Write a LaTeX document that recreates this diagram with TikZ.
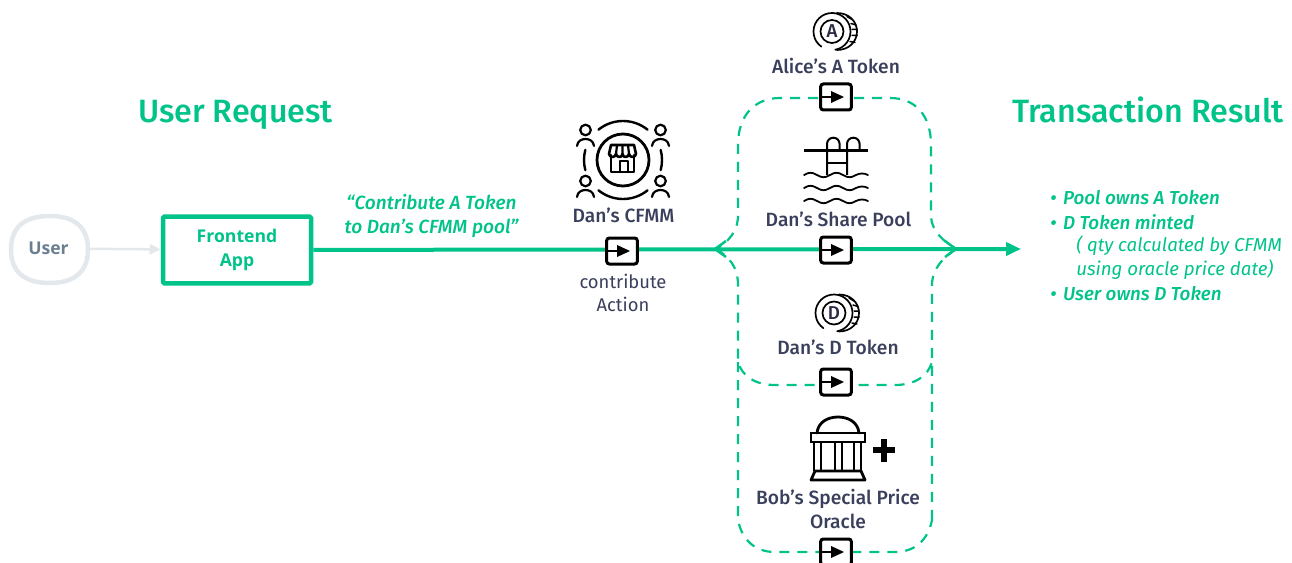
\documentclass[tikz,border=0pt]{standalone}
\usepackage{fontspec}
\setmainfont{Fira Sans}[BoldFont={Fira Sans Medium},BoldItalicFont={Fira Sans Medium Italic},ItalicFont={Fira Sans Italic}]
\newfontfamily\opn{Open Sans}
\usetikzlibrary{arrows.meta,shapes.geometric,calc}
\definecolor{grn}{HTML}{00C389}
\definecolor{ink}{HTML}{3A3F5C}
\definecolor{ugrey}{HTML}{E3E8ED}
\definecolor{utext}{HTML}{6B7F90}
\newcommand{\fs}[1]{\fontsize{#1}{#1}\selectfont}
\tikzset{
  x=0.75pt,y=-0.75pt,
  px/.style={line width=#1*0.75pt},
  lbl/.style={font=\fs{14.4}\bfseries,text=ink,align=center,inner sep=0pt},
  title/.style={font=\fs{24.2}\bfseries,text=grn,inner sep=0pt,anchor=base},
  note/.style={font=\fs{14.1}\bfseries\itshape,text=grn,inner sep=0pt,anchor=west},
  subnote/.style={font=\fs{14}\itshape,text=grn,inner sep=0pt,anchor=west},
  dashline/.style={draw=grn,px=2.2,dash pattern=on 7.5pt off 6pt},
  btn/.style={draw=black,fill=white,px=3,rounded corners=2pt,minimum width=23pt,minimum height=19.5pt,inner sep=0pt},
  ic/.style={draw=black,px=2,line cap=round,line join=round},
}
\newcommand{\btnmark}[1]{%
  \draw[black,px=2.4] (#1.west) -- ++(14,0);
  \fill[black] ($(#1.center)+(-5,-6)$) -- ++(13,6) -- ++(-13,6) -- cycle;
}
\newcommand{\coin}[2]{%
  \begin{scope}[shift={(#1)}]
    \draw[ic,px=1.7] (125:18.5) arc[start angle=125,end angle=440,radius=18.5];
    \draw[ic,px=1.7] (5,-18.5) .. controls (17,-18.5) and (25,-10) .. (25,0) .. controls (25,10) and (17,18.5) .. (5,18.5);
    \draw[ic,px=1.5] (15,-15) -- (20,-12) (19,-8) -- (24,-6.5) (20,-2) -- (25,-2) (20,4) -- (25,4) (18,10) -- (23,11);
    \draw[ic,px=1.7] (0,0) circle[radius=11.5];
    \node[font=\fs{14}\bfseries,text=ink!70!black,inner sep=0pt] at (0,0) {#2};
  \end{scope}}
\begin{document}
\begin{tikzpicture}
\useasboundingbox (0,0) rectangle (1292,563);
% titles
\node[title] (t1) at (235.5,123) {User Request};
\node[title] (t2) at (1148,123) {Transaction Result};
% user
\node[minimum width=58pt,minimum height=50pt,inner sep=0pt,font=\opn\fs{13.2}\bfseries,text=utext] (user) at (48.5,248.5) {User};
\draw[ugrey,px=4.5] (11,249.5) .. controls (11,226) and (26,216) .. (49.5,216) .. controls (73,216) and (88,226) .. (88,249.5) .. controls (88,273) and (73,283) .. (49.5,283) .. controls (26,283) and (11,273) .. (11,249.5) -- cycle;
% frontend
\node[draw=grn,px=4.5,rounded corners=1pt,minimum width=111pt,minimum height=50pt,inner sep=0pt,font=\opn\bfseries,text=grn,align=center] (fe) at (237,250) {\fs{13.2}Frontend\\[6.2pt]\fs{13.2}App};
\coordinate (tip) at (1021,249);
\draw[ugrey,px=2.5,-{Triangle[length=11pt*0.75,width=10pt*0.75]}] (user) -- (fe);
\draw[grn,px=4,-{Triangle[length=15pt*0.75,width=13pt*0.75]}] (fe) -- (tip);
% dashed
\draw[dashline] (836,98) -- (780,98) .. controls (755,98) and (738,115) .. (738,145) -- (738,215) .. controls (738,232) and (728,242) .. (716,249);
\draw[dashline] (836,98) -- (890,98) .. controls (915,98) and (931,115) .. (931,145) -- (931,215) .. controls (931,232) and (945,242) .. (956,249);
\draw[dashline] (716,249) .. controls (728,256) and (738,266) .. (738,285) -- (738,362) .. controls (742,376) and (755,385) .. (775,385) -- (895,385) .. controls (915,385) and (928,376) .. (932,362);
\draw[dashline] (956,249) .. controls (945,256) and (932,268) .. (932,285) -- (932,520);
\draw[dashline] (738,362) -- (738,520) .. controls (742,540) and (755,552) .. (775,552) -- (895,552) .. controls (915,552) and (928,540) .. (932,520);
\draw[grn,px=2.5] (726,241) -- (715,249) -- (726,257);
\draw[grn,px=2.5] (945,241) -- (956,249) -- (945,257);
% buttons
\node[btn] (b0) at (622,251) {}; \btnmark{b0}
\node[btn] (b1) at (836,97) {}; \btnmark{b1}
\node[btn] (b2) at (836,250) {}; \btnmark{b2}
\node[btn] (b3) at (836,382) {}; \btnmark{b3}
\node[btn] (b4) at (836,552) {}; \btnmark{b4}
% labels
\node[lbl] (l1) at (836,66) {Alice’s A Token};
\node[lbl] (l2) at (838.5,219.5) {Dan’s Share Pool};
\node[lbl] (l3) at (838,347) {Dan’s D Token};
\node[lbl,align=center] (l4) at (838,509) {Bob’s Special Price\\[3.6pt]Oracle};
\node[lbl] (l0) at (623.5,215) {Dan’s CFMM};
\node[font=\fs{13.8},text=ink,align=center,inner sep=0pt] (l5) at (623,293) {contribute\\[4pt]Action};
\node[font=\fs{14.3}\bfseries\itshape,text=grn,align=center,inner sep=0pt] (q) at (431.5,215.5) {“Contribute A Token\\[3.7pt]to Dan’s CFMM pool”};
% right notes
\node[note] (n1) at (1050,198) {•\hspace{5pt}Pool owns A Token};
\node[note] (n2) at (1050,222) {•\hspace{5pt}D Token minted};
\node[subnote] (n3) at (1076,246) {( qty calculated by CFMM};
\node[subnote] (n4) at (1076,270) {using oracle price date)};
\node[note] (n5) at (1050,294) {•\hspace{5pt}User owns D Token};
% coins
\coin{832,31.5}{A}
\coin{834,313}{D}
% pool
\begin{scope}[shift={(836,150)}]
  \draw[black,px=3] (-32,1) -- (32,1);
  \draw[ic,line cap=butt] (-9,25) -- (-9,-6) arc[start angle=180,end angle=360,radius=6.3] -- (3.6,1);
  \draw[ic,line cap=butt] (11,25) -- (11,-6) arc[start angle=180,end angle=360,radius=6.3] -- (23.6,1);
  \draw[ic,line cap=butt,px=2.4] (-9,13) -- (11,13);
  \foreach \y in {25,38,51}{
    \draw[ic,px=1.8] (-32,\y) .. controls (-27,\y-3) and (-24,\y-3) .. (-19,\y) .. controls (-14,\y+3) and (-11,\y+3) .. (-6,\y) .. controls (-1,\y-3) and (2,\y-3) .. (7,\y) .. controls (12,\y+3) and (15,\y+3) .. (20,\y) .. controls (24,\y-2) and (28,\y-2) .. (32,\y);
  }
\end{scope}
% oracle
\begin{scope}[shift={(838,450)}]
  \draw[ic,px=2.8] (-21,-17) .. controls (-20,-28) and (-10,-33) .. (0,-33) .. controls (10,-33) and (20,-28) .. (21,-17);
  \draw[ic,px=2.8,line join=miter] (-27,-17) rectangle (27,-8);
  \foreach \x in {-24,-17,-3,4,16,23} \draw[black,px=2.6] (\x,-8) -- (\x,21);
  \draw[ic,px=2.8] (-23,21) -- (23,21) -- (27,30) -- (-27,30) -- cycle;
  \draw[black,px=6.5] (35,0) -- (57,0) (46,-11) -- (46,12);
\end{scope}
% CFMM icon
\begin{scope}[shift={(623,160)}]
  \draw[ic,px=2.8] (0,0) circle[radius=26];
  \draw[ic,px=2.4] (231:39) arc[start angle=231,end angle=309,radius=39];
  \draw[ic,px=2.4] (51:39) arc[start angle=51,end angle=129,radius=39];
  \draw[ic,px=2.4] (165:39) arc[start angle=165,end angle=195,radius=39];
  \draw[ic,px=2.4] (-15:39) arc[start angle=-15,end angle=15,radius=39];
  \foreach \sx/\sy in {-1/-30,1/-30,-1/21,1/21}{
    \begin{scope}[shift={(\sx*37.5,\sy)}]
      \draw[ic,px=2.2] (0,0) circle[radius=5.3];
      \draw[ic,px=2.2] (-8.5,16) .. controls (-8,11) and (-4,9) .. (0,9) .. controls (4,9) and (8,11) .. (8.5,16);
    \end{scope}
  }
  \draw[ic,px=2.6] (-12,-5) -- (-12,12) -- (11,12) -- (11,-5);
  \draw[ic,px=2.4] (-3,12) -- (-3,1) -- (5,1) -- (5,12);
  \draw[ic,px=2.6] (-12,-15) -- (11,-15) -- (13,-6) .. controls (12,-2) and (7,-2) .. (6,-6) .. controls (5,-2) and (0,-2) .. (-0.5,-6) .. controls (-1,-2) and (-6,-2) .. (-7,-6) .. controls (-8,-2) and (-13,-2) .. (-14,-6) -- cycle;
  \draw[ic,px=2.2] (-6,-15) -- (-7,-6) (-0.5,-15) -- (-0.5,-6) (5,-15) -- (6,-6);
\end{scope}
\end{tikzpicture}
\end{document}
